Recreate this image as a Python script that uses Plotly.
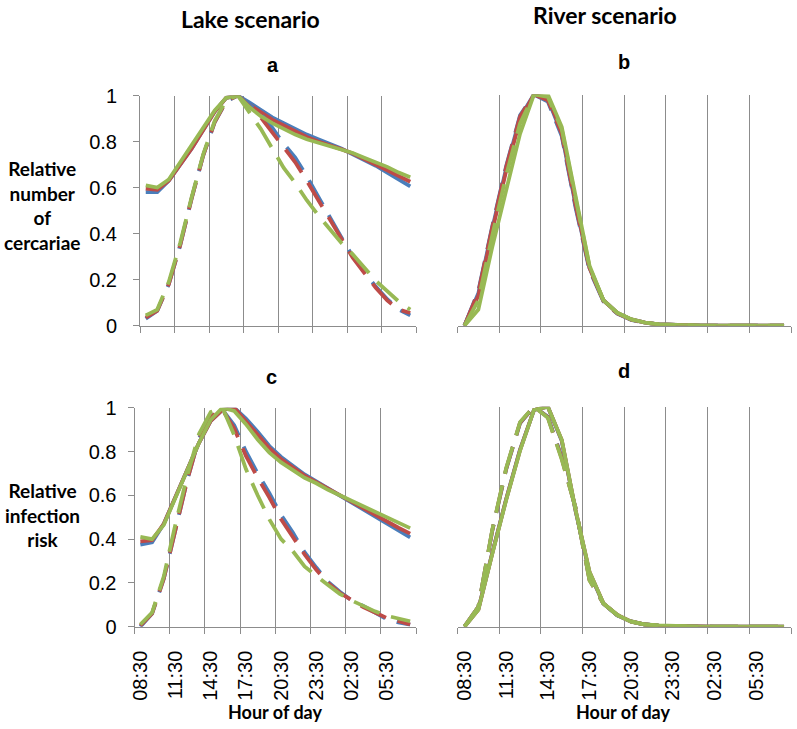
import plotly.graph_objects as go

# ---------------- data ----------------
hours = ["08:30", "09:30", "10:30", "11:30", "12:30", "13:30", "14:30", "15:30",
         "16:30", "17:30", "18:30", "19:30", "20:30", "21:30", "22:30", "23:30",
         "00:30", "01:30", "02:30", "03:30", "04:30", "05:30", "06:30", "07:30"]
tick_labels = hours[::3]
y_ticks = [0, 0.2, 0.4, 0.6, 0.8, 1]
y_tick_labels = ["0", "0.2", "0.4", "0.6", "0.8", "1"]

# (a) Lake scenario - relative number of cercariae
lake_cerc_solid_blue = [0.58, 0.58, 0.63, 0.70, 0.77, 0.85, 0.93, 0.99, 1.00, 0.97, 0.935, 0.905,
                        0.88, 0.855, 0.83, 0.81, 0.79, 0.77, 0.745, 0.72, 0.695, 0.665, 0.635, 0.605]
lake_cerc_solid_red = [0.595, 0.59, 0.63, 0.70, 0.77, 0.85, 0.93, 0.99, 1.00, 0.96, 0.925, 0.895,
                       0.87, 0.845, 0.82, 0.80, 0.785, 0.767, 0.748, 0.725, 0.70, 0.675, 0.65, 0.625]
lake_cerc_solid_green = [0.61, 0.60, 0.635, 0.71, 0.78, 0.86, 0.935, 0.99, 1.00, 0.95, 0.91, 0.88,
                         0.855, 0.83, 0.81, 0.795, 0.78, 0.765, 0.75, 0.73, 0.71, 0.69, 0.665, 0.645]
lake_cerc_dash_blue = [0.03, 0.065, 0.18, 0.35, 0.555, 0.74, 0.885, 0.975, 1.00, 0.96, 0.92, 0.86,
                       0.79, 0.73, 0.65, 0.56, 0.47, 0.385, 0.30, 0.235, 0.17, 0.115, 0.07, 0.045]
lake_cerc_dash_red = [0.035, 0.065, 0.18, 0.35, 0.555, 0.74, 0.885, 0.975, 1.00, 0.95, 0.905, 0.84,
                      0.775, 0.71, 0.63, 0.545, 0.46, 0.375, 0.295, 0.23, 0.165, 0.11, 0.07, 0.055]
lake_cerc_dash_green = [0.045, 0.07, 0.19, 0.36, 0.56, 0.745, 0.89, 0.98, 1.00, 0.93, 0.855, 0.77,
                        0.685, 0.62, 0.545, 0.48, 0.42, 0.36, 0.31, 0.255, 0.195, 0.15, 0.105, 0.07]

# (b) River scenario - relative number of cercariae
river_cerc_solid_blue = [0, 0.14, 0.42, 0.68, 0.90, 1.00, 0.98, 0.83, 0.52, 0.25, 0.11, 0.055,
                         0.027, 0.013, 0.006, 0.003, 0.0015, 0.0007, 0.0003, 0.0002, 0.0001, 0, 0, 0]
river_cerc_solid_red = [0, 0.13, 0.41, 0.67, 0.89, 1.00, 0.985, 0.84, 0.53, 0.25, 0.11, 0.055,
                        0.027, 0.013, 0.006, 0.003, 0.0015, 0.0007, 0.0003, 0.0002, 0.0001, 0, 0, 0]
river_cerc_solid_green = [0, 0.07, 0.34, 0.59, 0.83, 1.00, 1.00, 0.86, 0.56, 0.26, 0.11, 0.056,
                          0.028, 0.013, 0.006, 0.003, 0.0015, 0.0007, 0.0003, 0.0002, 0.0001, 0, 0, 0]
river_cerc_dash_blue = [0, 0.15, 0.43, 0.69, 0.91, 1.00, 0.97, 0.82, 0.51, 0.24, 0.105, 0.052,
                        0.025, 0.012, 0.006, 0.003, 0.0014, 0.0007, 0.0003, 0.0001, 0, 0, 0, 0]
river_cerc_dash_red = [0, 0.145, 0.425, 0.685, 0.905, 1.00, 0.975, 0.83, 0.52, 0.245, 0.107, 0.053,
                       0.026, 0.012, 0.006, 0.003, 0.0014, 0.0007, 0.0003, 0.0001, 0, 0, 0, 0]
river_cerc_dash_green = [0, 0.11, 0.39, 0.65, 0.875, 1.00, 0.99, 0.85, 0.55, 0.255, 0.11, 0.055,
                         0.027, 0.013, 0.006, 0.003, 0.0014, 0.0007, 0.0003, 0.0001, 0, 0, 0, 0]

# (c) Lake scenario - relative infection risk
lake_risk_solid_blue = [0.375, 0.385, 0.47, 0.59, 0.71, 0.84, 0.94, 0.99, 1.00, 0.95, 0.89, 0.825,
                        0.775, 0.735, 0.695, 0.663, 0.631, 0.60, 0.568, 0.536, 0.504, 0.472, 0.44, 0.408]
lake_risk_solid_red = [0.39, 0.395, 0.47, 0.59, 0.71, 0.84, 0.94, 0.99, 1.00, 0.94, 0.875, 0.815,
                       0.765, 0.725, 0.69, 0.66, 0.63, 0.60, 0.57, 0.54, 0.51, 0.48, 0.452, 0.425]
lake_risk_solid_green = [0.41, 0.40, 0.465, 0.59, 0.71, 0.84, 0.945, 1.00, 0.985, 0.925, 0.855, 0.795,
                         0.75, 0.715, 0.68, 0.655, 0.625, 0.60, 0.575, 0.55, 0.525, 0.50, 0.475, 0.45]
lake_risk_dash_blue = [0.0, 0.06, 0.22, 0.44, 0.67, 0.86, 0.96, 0.99, 0.92, 0.80, 0.70, 0.61,
                       0.51, 0.43, 0.34, 0.27, 0.205, 0.16, 0.12, 0.095, 0.065, 0.035, 0.02, 0.01]
lake_risk_dash_red = [0.005, 0.06, 0.22, 0.44, 0.67, 0.86, 0.96, 0.99, 0.905, 0.78, 0.68, 0.59,
                      0.49, 0.41, 0.33, 0.26, 0.20, 0.155, 0.12, 0.09, 0.065, 0.04, 0.025, 0.01]
lake_risk_dash_green = [0.01, 0.065, 0.23, 0.47, 0.69, 0.88, 0.98, 1.00, 0.875, 0.72, 0.60, 0.49,
                        0.40, 0.345, 0.275, 0.23, 0.19, 0.15, 0.12, 0.095, 0.07, 0.05, 0.038, 0.025]

# (d) River scenario - relative infection risk
river_risk_solid_blue = [0, 0.08, 0.335, 0.58, 0.805, 0.985, 1.00, 0.845, 0.525, 0.245, 0.105, 0.052,
                         0.023, 0.01, 0.005, 0.003, 0.0015, 0.0007, 0.0003, 0.0001, 0, 0, 0, 0]
river_risk_solid_red = [0, 0.078, 0.333, 0.578, 0.803, 0.985, 1.00, 0.848, 0.528, 0.248, 0.106, 0.053,
                        0.023, 0.01, 0.005, 0.003, 0.0015, 0.0007, 0.0003, 0.0001, 0, 0, 0, 0]
river_risk_solid_green = [0, 0.076, 0.33, 0.575, 0.80, 0.985, 1.00, 0.85, 0.53, 0.25, 0.106, 0.053,
                          0.023, 0.01, 0.006, 0.003, 0.0015, 0.0007, 0.0003, 0.0001, 0, 0, 0, 0]
river_risk_dash_blue = [0, 0.09, 0.435, 0.715, 0.925, 1.00, 0.955, 0.77, 0.54, 0.215, 0.105, 0.052,
                        0.024, 0.01, 0.005, 0.002, 0.001, 0.0005, 0.0002, 0.0001, 0, 0, 0, 0]
river_risk_dash_red = [0, 0.09, 0.437, 0.717, 0.927, 1.00, 0.952, 0.765, 0.54, 0.212, 0.105, 0.053,
                       0.024, 0.01, 0.005, 0.002, 0.001, 0.0005, 0.0002, 0.0001, 0, 0, 0, 0]
river_risk_dash_green = [0, 0.09, 0.44, 0.72, 0.93, 1.00, 0.95, 0.76, 0.54, 0.21, 0.106, 0.053,
                         0.024, 0.01, 0.005, 0.002, 0.001, 0.0005, 0.0002, 0.0001, 0, 0, 0, 0]

# ---------------- styling ----------------
W, H = 797, 729
BLUE, RED, GREEN = "#4A7EBB", "#BE4B48", "#98B954"
GRID = "#8C8C8C"
TICK_FONT = dict(family="Liberation Sans, Arial, sans-serif", size=20, color="black")
BOLD_FONT = "Lato, Carlito, Calibri, sans-serif"
ARIAL = "Liberation Sans, Arial, sans-serif"
LW = 3.8
DASH = "28px,12px"


def fx(px):
    return px / W


def fy(py):
    return 1 - py / H


x_pos = list(range(len(hours)))
major_vals = x_pos[::3]
boundaries = [v - 0.5 for v in major_vals] + [len(hours) - 0.5]

# panel boxes in pixels: (left, right, top, bottom)
boxes = {
    1: (140, 416, 95.5, 325.7),
    2: (457.5, 791, 94.5, 325.7),
    3: (134.5, 416, 407.7, 626.7),
    4: (457.5, 791, 406.7, 626.7),
}

# drawing order: blue/red first, greens on top
panels = {
    1: [lake_cerc_solid_blue, lake_cerc_solid_red, lake_cerc_dash_blue, lake_cerc_dash_red,
        lake_cerc_solid_green, lake_cerc_dash_green],
    2: [river_cerc_solid_blue, river_cerc_solid_red, river_cerc_dash_blue, river_cerc_dash_red,
        river_cerc_solid_green, river_cerc_dash_green],
    3: [lake_risk_solid_blue, lake_risk_solid_red, lake_risk_dash_blue, lake_risk_dash_red,
        lake_risk_solid_green, lake_risk_dash_green],
    4: [river_risk_solid_blue, river_risk_solid_red, river_risk_dash_blue, river_risk_dash_red,
        river_risk_solid_green, river_risk_dash_green],
}
styles = [(BLUE, "solid"), (RED, "solid"), (BLUE, DASH), (RED, DASH),
          (GREEN, "solid"), (GREEN, DASH)]

fig = go.Figure()
for p, series in panels.items():
    xa = "x" if p == 1 else f"x{p}"
    ya = "y" if p == 1 else f"y{p}"
    for vals, (col, dash) in zip(series, styles):
        fig.add_trace(go.Scatter(x=x_pos, y=vals, mode="lines", xaxis=xa, yaxis=ya,
                                 line=dict(color=col, width=LW, dash=dash),
                                 hoverinfo="skip", showlegend=False))

layout = dict(width=W, height=H, margin=dict(l=0, r=0, t=0, b=0, autoexpand=False),
              paper_bgcolor="white", plot_bgcolor="white", showlegend=False)

for p, (l, r, t, b) in boxes.items():
    xk = "xaxis" if p == 1 else f"xaxis{p}"
    yk = "yaxis" if p == 1 else f"yaxis{p}"
    ya = "y" if p == 1 else f"y{p}"
    xa = "x" if p == 1 else f"x{p}"
    bottom_row = p in (3, 4)
    left_col = p in (1, 3)
    layout[xk] = dict(
        domain=[fx(l), fx(r)], anchor=ya, range=[-0.5, len(hours) - 0.5],
        automargin=False,
        tickmode="array", tickvals=major_vals, ticktext=tick_labels,
        showticklabels=bottom_row, ticks="", tickangle=-90, tickfont=TICK_FONT,
        ticklabelstandoff=15,
        showgrid=False, zeroline=False, showline=True, linecolor=GRID, linewidth=1,
        minor=dict(tickmode="array", tickvals=boundaries, ticks="outside", ticklen=6,
                   tickcolor=GRID, tickwidth=1, showgrid=True, gridcolor=GRID, gridwidth=1),
    )
    layout[yk] = dict(
        domain=[fy(b), fy(t)], anchor=xa, range=[0, 1],
        automargin=False,
        tickmode="array", tickvals=y_ticks, ticktext=y_tick_labels,
        showticklabels=left_col, ticks="outside" if left_col else "", ticklen=6,
        tickcolor=GRID, tickfont=TICK_FONT,
        ticklabelstandoff=(12 if p == 1 else 7),
        showgrid=False, zeroline=False, showline=left_col, linecolor=GRID, linewidth=1,
    )

fig.update_layout(**layout)


def ann(text, x, y, size, family):
    fig.add_annotation(text=f"<b>{text}</b>", x=fx(x), y=fy(y),
                       xref="paper", yref="paper", showarrow=False, xanchor="center",
                       yanchor="middle", align="center",
                       font=dict(family=family, size=size, color="black"))


ann("Lake scenario", 250, 19, 23, BOLD_FONT)
ann("River scenario", 605, 15, 23, BOLD_FONT)
ann("a", 273, 65, 20, ARIAL)
ann("b", 624, 62, 20, ARIAL)
ann("c", 271, 377, 20, ARIAL)
ann("d", 624, 371, 20, ARIAL)
ann("Relative<br>number<br>of<br>cercariae", 42, 206, 19, BOLD_FONT)
ann("Relative<br>infection<br>risk", 42, 515, 19, BOLD_FONT)
ann("Hour of day", 275, 712, 18, BOLD_FONT)
ann("Hour of day", 623, 712, 18, BOLD_FONT)

# remove the default 8px page margin so the figure fills the window exactly
fig.write_html("out.html", config={"displayModeBar": False},
               post_script="document.body.style.margin='0';")
